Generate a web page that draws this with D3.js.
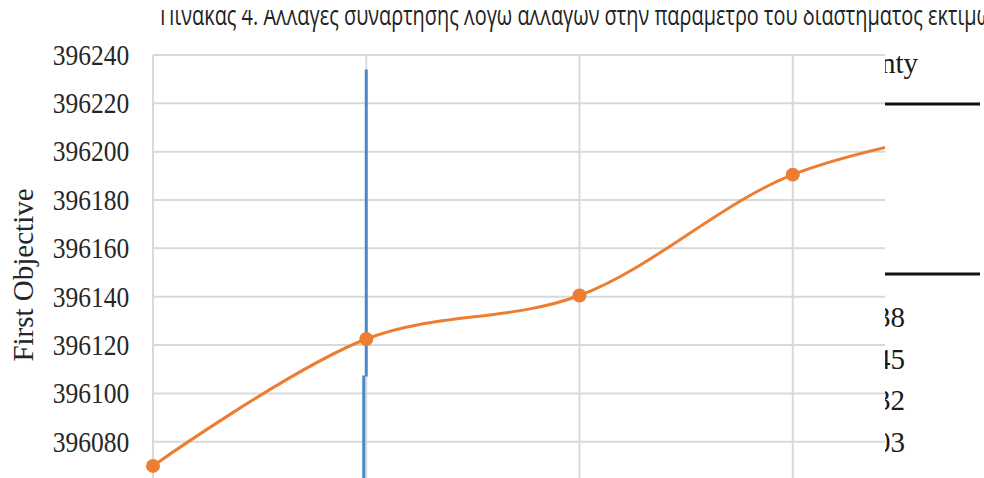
<!DOCTYPE html>
<html>
<head>
<meta charset="utf-8">
<script src="https://cdn.jsdelivr.net/npm/d3@7"></script>
<style>
  html, body { margin: 0; padding: 0; background: #fff; }
  svg { display: block; }
</style>
</head>
<body>
<svg id="chart" width="984" height="478"></svg>
<script>
// Parameter steps along the x axis (their labels sit below the visible area)
const categories = ["1", "2", "3", "4", "5"];
// First objective value at each step
const firstObjective = [396070, 396122.5, 396140.5, 396190.5, 396212];
// Y axis tick values
const yTicks = [396080, 396100, 396120, 396140, 396160, 396180, 396200, 396220, 396240];
// Vertical marker drawn at the second step: top end and joint of its two pieces
const markerCategory = "2";
const markerValues = [396234, 396107];
// Caption above the chart
const captionText = "Πίνακας 4. Αλλαγές συνάρτησης λόγω αλλαγών στην παράμετρο του διαστήματος εκτιμώ";
// Neighbouring table: header fragment and last characters of its numbers
const tableHeader = "Uncertainty";
const tableValues = ["0.38", "0.45", "0.32", "0.03"];

const W = 984, H = 478;
const plot = { left: 153, right: 885, top: 55, bottom: H };
const svg = d3.select("#chart");

const defs = svg.append("defs");
defs.append("clipPath").attr("id", "plotClip")
  .append("rect").attr("x", 130).attr("y", 0).attr("width", plot.right - 130).attr("height", H);
defs.append("clipPath").attr("id", "captionClip")
  .append("rect").attr("x", 0).attr("y", 10).attr("width", W).attr("height", 30);
defs.append("clipPath").attr("id", "tableClip")
  .append("rect").attr("x", plot.right).attr("y", 0).attr("width", W - plot.right).attr("height", H);

const x = d3.scalePoint().domain(categories).range([153, 1006]);
const y = d3.scaleLinear().domain([396065, 396240]).range([H, 55]);

// Caption, with its upper part cut off by the page edge
svg.append("g").attr("clip-path", "url(#captionClip)")
  .append("text")
  .attr("x", 160).attr("y", 25)
  .attr("font-family", "'Open Sans', 'DejaVu Sans', sans-serif")
  .attr("font-size", 27)
  .attr("fill", "#222")
  .attr("textLength", 832)
  .attr("lengthAdjust", "spacingAndGlyphs")
  .text(captionText);

// Grid
const grid = svg.append("g").attr("clip-path", "url(#plotClip)");
grid.selectAll("line.h").data(yTicks).join("line")
  .attr("class", "h")
  .attr("x1", plot.left).attr("x2", plot.right)
  .attr("y1", d => y(d)).attr("y2", d => y(d))
  .attr("stroke", "#d9d9d9").attr("stroke-width", 2);
grid.selectAll("line.v").data(categories).join("line")
  .attr("class", "v")
  .attr("x1", d => x(d)).attr("x2", d => x(d))
  .attr("y1", y(396240)).attr("y2", H)
  .attr("stroke", "#d9d9d9").attr("stroke-width", 2);

// Y axis labels
const yAxis = d3.axisLeft(y).tickValues(yTicks).tickSize(0).tickPadding(27).tickFormat(d3.format("d"));
const gy = svg.append("g").attr("transform", `translate(${plot.left},0)`).call(yAxis);
gy.select(".domain").remove();
gy.selectAll("text")
  .attr("font-family", "'Liberation Serif', 'Times New Roman', serif")
  .attr("font-size", 29)
  .attr("fill", "#262626")
  .attr("transform", "scale(0.88,1)");

// Y axis title
svg.append("text")
  .attr("transform", "translate(33,275) rotate(-90)")
  .attr("text-anchor", "middle")
  .attr("font-family", "'Liberation Serif', 'Times New Roman', serif")
  .attr("font-size", 29)
  .attr("fill", "#262626")
  .text("First Objective");

const marks = svg.append("g").attr("clip-path", "url(#plotClip)");

// Vertical marker in two slightly offset pieces
const mx = x(markerCategory);
marks.append("line")
  .attr("x1", mx).attr("x2", mx)
  .attr("y1", y(markerValues[0])).attr("y2", y(markerValues[1]))
  .attr("stroke", "#4a89c8").attr("stroke-width", 3);
marks.append("line")
  .attr("x1", mx - 2.5).attr("x2", mx - 2.5)
  .attr("y1", y(markerValues[1]) - 1).attr("y2", H)
  .attr("stroke", "#4a89c8").attr("stroke-width", 3);

// Smoothed series line
const data = categories.map((c, i) => ({ c, v: firstObjective[i] }));
const line = d3.line().x(d => x(d.c)).y(d => y(d.v)).curve(d3.curveCatmullRom.alpha(0.5));
marks.append("path")
  .datum(data)
  .attr("d", line)
  .attr("fill", "none")
  .attr("stroke", "#ed7d31")
  .attr("stroke-width", 3);
marks.selectAll("circle").data(data).join("circle")
  .attr("cx", d => x(d.c)).attr("cy", d => y(d.v))
  .attr("r", 7)
  .attr("fill", "#ed7d31");

// Neighbouring table, clipped at the chart edge
const table = svg.append("g").attr("clip-path", "url(#tableClip)");
table.append("text")
  .attr("x", 918).attr("y", 73)
  .attr("text-anchor", "end")
  .attr("font-family", "'Liberation Serif', 'Times New Roman', serif")
  .attr("font-size", 29)
  .attr("fill", "#1a1a1a")
  .text(tableHeader);
table.selectAll("line.rule").data([104, 274]).join("line")
  .attr("class", "rule")
  .attr("x1", plot.right).attr("x2", 980)
  .attr("y1", d => d).attr("y2", d => d)
  .attr("stroke", "#111").attr("stroke-width", 3);
const rowBase = d3.scalePoint().domain(tableValues).range([327, 452]);
table.selectAll("text.val").data(tableValues).join("text")
  .attr("class", "val")
  .attr("x", 905).attr("y", d => rowBase(d))
  .attr("text-anchor", "end")
  .attr("font-family", "'Liberation Serif', 'Times New Roman', serif")
  .attr("font-size", 29)
  .attr("fill", "#1a1a1a")
  .text(d => d);
</script>
</body>
</html>
